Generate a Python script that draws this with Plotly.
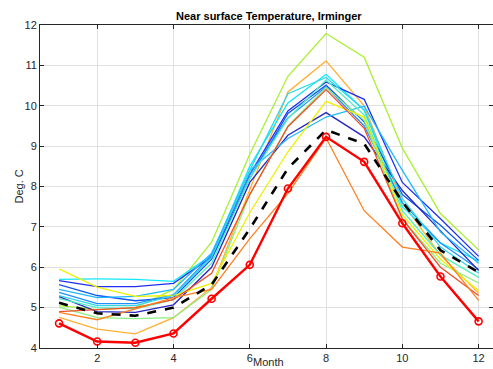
import plotly.graph_objects as go

months = list(range(1, 13))

# Coloured individual series (one per year / member)
series_colors = [
    "#a8f030", "#ffb030", "#10e8f8", "#2030f0", "#1058f0", "#2090ff",
    "#2828c0", "#20b8ff", "#50f0c0", "#88f080", "#f0f000", "#f05028",
    "#ff8020", "#30d8e8",
]
series_values = [
    [5.05, 4.95, 5.00, 5.45, 6.62, 8.80, 10.73, 11.79, 11.20, 8.95, 7.33, 6.43],
    [4.76, 4.47, 4.35, 4.75, 5.50, 7.90, 10.34, 11.11, 10.00, 7.60, 6.30, 5.36],
    [5.70, 5.71, 5.70, 5.65, 6.30, 8.50, 10.07, 10.78, 9.89, 7.50, 6.60, 6.15],
    [5.67, 5.52, 5.52, 5.60, 6.25, 8.30, 9.87, 10.59, 10.16, 8.10, 7.20, 6.27],
    [5.57, 5.30, 5.17, 5.25, 6.20, 8.20, 9.81, 10.51, 9.60, 7.80, 7.04, 6.17],
    [5.38, 5.10, 5.10, 5.32, 6.30, 8.30, 9.70, 10.47, 9.50, 7.60, 6.60, 5.95],
    [5.27, 4.90, 4.88, 5.07, 6.00, 8.10, 9.27, 9.83, 9.23, 7.90, 6.90, 5.92],
    [5.45, 5.25, 5.28, 5.45, 6.35, 8.40, 9.19, 9.72, 9.99, 8.40, 6.87, 6.10],
    [5.22, 5.00, 4.97, 5.20, 6.10, 8.20, 9.68, 10.64, 9.77, 7.40, 6.30, 5.75],
    [5.01, 4.75, 4.73, 4.75, 5.45, 7.80, 9.50, 10.45, 9.64, 7.20, 6.10, 5.61],
    [5.96, 5.51, 5.28, 5.30, 5.60, 7.35, 8.86, 10.11, 9.72, 7.30, 6.20, 5.42],
    [4.90, 4.95, 5.00, 5.20, 5.85, 7.80, 9.48, 10.40, 9.44, 7.20, 6.00, 5.30],
    [4.88, 4.70, 4.97, 5.25, 5.45, 6.71, 7.83, 9.20, 7.40, 6.50, 6.35, 5.18],
    [5.30, 5.05, 5.05, 5.30, 6.25, 8.40, 10.30, 10.70, 9.90, 7.70, 6.50, 5.85],
]
mean_values = [5.12, 4.86, 4.80, 5.00, 5.57, 6.95, 8.45, 9.40, 9.06, 7.62, 6.42, 5.88]
red_values = [4.61, 4.16, 4.13, 4.36, 5.22, 6.06, 7.95, 9.23, 8.61, 7.09, 5.77, 4.66]

x_ticks = [2, 4, 6, 8, 10, 12]
y_ticks = [4, 5, 6, 7, 8, 9, 10, 11, 12]

fig = go.Figure()
for col, vals in zip(series_colors, series_values):
    fig.add_trace(go.Scatter(x=months, y=vals, mode="lines",
                             line=dict(color=col, width=1.3), showlegend=False))

fig.add_trace(go.Scatter(x=months, y=mean_values, mode="lines",
                         line=dict(color="black", width=2.6, dash="dash"),
                         showlegend=False))
fig.add_trace(go.Scatter(x=months, y=red_values, mode="lines+markers",
                         line=dict(color="#ff0000", width=2.4),
                         marker=dict(symbol="circle-open", size=7, color="#ff0000",
                                     line=dict(width=1.6, color="#ff0000")),
                         showlegend=False))

axis_common = dict(showgrid=True, gridcolor="#e0e0e0", gridwidth=1,
                   showline=True, linecolor="#262626", linewidth=1,
                   mirror="ticks", ticks="inside", ticklen=4, tickcolor="#262626",
                   zeroline=False, tickfont=dict(family="Liberation Sans", size=11, color="#262626"))

x_lo, x_hi = 0.5, 12.377
fig.update_xaxes(range=[x_lo, x_hi], tickvals=x_ticks, **axis_common)
fig.update_yaxes(range=[4, 12], tickvals=y_ticks, **axis_common)

center_x = (6.5 - x_lo) / (x_hi - x_lo)

fig.update_layout(
    width=493, height=369,
    margin=dict(l=40, r=0, t=25, b=21, autoexpand=False),
    plot_bgcolor="white", paper_bgcolor="white",
    annotations=[
        dict(text="<b>Near surface Temperature, Irminger</b>", x=center_x, y=1.0,
             xref="paper", yref="paper", yanchor="bottom", yshift=1, showarrow=False,
             font=dict(family="Liberation Sans", size=11, color="black")),
        dict(text="Month", x=center_x, y=0, xref="paper", yref="paper",
             yanchor="top", yshift=-7, showarrow=False, borderpad=0,
             font=dict(family="Liberation Sans", size=11, color="#262626")),
        dict(text="Deg. C", x=0, y=0.5, xref="paper", yref="paper", textangle=-90,
             xanchor="right", xshift=-14, showarrow=False,
             font=dict(family="Liberation Sans", size=11, color="#262626")),
    ],
)

fig.write_html("out.html")
